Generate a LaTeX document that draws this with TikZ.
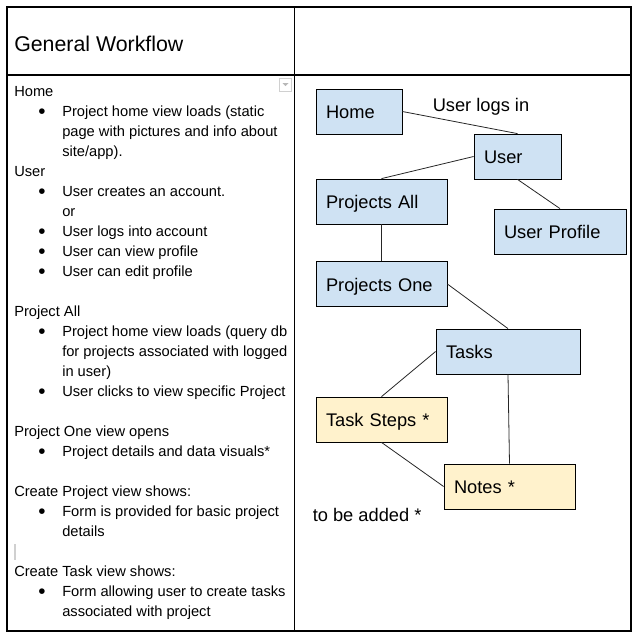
\documentclass[tikz,border=0pt]{standalone}
\usepackage{fontspec}
\setmainfont{Liberation Sans}
\definecolor{boxblue}{HTML}{CFE2F3}
\definecolor{boxyellow}{HTML}{FFF2CC}
\definecolor{uigray}{HTML}{D0D0D0}
\definecolor{tri}{HTML}{B8B8B8}
\begin{document}
\begin{tikzpicture}[x=0.75pt,y=-0.75pt,
  tableline/.style={line width=0.9pt, draw=black},
  bx/.style={draw=black, line width=0.6pt, inner xsep=7.5pt, inner ysep=0pt,
    minimum height=33.75pt, align=left, text height=10.5pt, text depth=0pt,
    font=\fontsize{13.7pt}{16pt}\selectfont},
  bluebx/.style={bx, fill=boxblue},
  yellowbx/.style={bx, fill=boxyellow},
  conn/.style={line width=0.6pt, draw=black!85},
  lt/.style={anchor=base west, inner sep=0pt, font=\fontsize{11pt}{15pt}\selectfont},
  bul/.style={anchor=base, inner sep=0pt, yshift=-1.7pt, font=\fontsize{15.5pt}{18pt}\selectfont},
  lbl/.style={anchor=base west, inner sep=0pt, font=\fontsize{13.7pt}{16pt}\selectfont}]
\useasboundingbox (0,0) rectangle (639,640);
% table
\draw[tableline] (7,7) rectangle (631,631);
\draw[tableline] (294.5,7) -- (294.5,631);
\draw[tableline] (7,75) -- (631,75);
\node[anchor=base west, inner sep=0pt, font=\fontsize{16pt}{19pt}\selectfont] (title) at (14,51.7) {General Workflow};
% dropdown widget
\draw[uigray, line width=0.6pt] (279,78.5) rectangle (291.5,91);
\fill[tri] (282.5,83) -- (288.5,83) -- (285.5,86) -- cycle;
% cursor bar
\draw[uigray, line width=1.5pt] (15,544) -- (15,560);
% left text
\node[lt] (l1) at (14,96.7) {Home};
\node[bul] (b1) at (42,116.7) {•};
\node[lt] (l2) at (62,116.7) {Project home view loads (static};
\node[lt] (l3) at (62,136.7) {page with pictures and info about};
\node[lt] (l4) at (62,156.7) {site/app).};
\node[lt] (l5) at (14,176.7) {User};
\node[bul] (b2) at (42,196.7) {•};
\node[lt] (l6) at (62,196.7) {User creates an account.};
\node[lt] (l7) at (62,216.7) {or};
\node[bul] (b3) at (42,236.7) {•};
\node[lt] (l8) at (62,236.7) {User logs into account};
\node[bul] (b4) at (42,256.7) {•};
\node[lt] (l9) at (62,256.7) {User can view profile};
\node[bul] (b5) at (42,276.7) {•};
\node[lt] (l10) at (62,276.7) {User can edit profile};
\node[lt] (l11) at (14,316.7) {Project All};
\node[bul] (b6) at (42,336.7) {•};
\node[lt] (l12) at (62,336.7) {Project home view loads (query db};
\node[lt] (l13) at (62,356.7) {for projects associated with logged};
\node[lt] (l14) at (62,376.7) {in user)};
\node[bul] (b7) at (42,396.7) {•};
\node[lt] (l15) at (62,396.7) {User clicks to view specific Project};
\node[lt] (l16) at (14,436.7) {Project One view opens};
\node[bul] (b8) at (42,456.7) {•};
\node[lt] (l17) at (62,456.7) {Project details and data visuals*};
\node[lt] (l18) at (14,496.7) {Create Project view shows:};
\node[bul] (b9) at (42,516.7) {•};
\node[lt] (l19) at (62,516.7) {Form is provided for basic project};
\node[lt] (l20) at (62,536.7) {details};
\node[lt] (l21) at (14,576.7) {Create Task view shows:};
\node[bul] (b10) at (42,596.7) {•};
\node[lt] (l22) at (62,596.7) {Form allowing user to create tasks};
\node[lt] (l23) at (62,616.7) {associated with project};
% diagram boxes
\node[bluebx, text width=49.5pt] (home) at (359,111.5) {Home};
\node[bluebx, text width=50.25pt] (user) at (517.5,156.5) {User};
\node[bluebx, text width=83.25pt] (pall) at (381.5,201.5) {Projects All};
\node[bluebx, text width=84pt] (uprof) at (560,231.5) {User Profile};
\node[bluebx, text width=83.25pt] (pone) at (381.5,284) {Projects One};
\node[bluebx, text width=93pt] (tasks) at (508,351.5) {Tasks};
\node[yellowbx, text width=83.25pt] (tsteps) at (381.5,419.5) {Task Steps *};
\node[yellowbx, text width=83.25pt] (notes) at (509.5,486.5) {Notes *};
% connectors
\draw[conn] (home.east) -- (user.north);
\draw[conn] (user.west) -- (pall.north);
\draw[conn] (user.south) -- (uprof.north);
\draw[conn] (pall.south) -- (pone.north);
\draw[conn] (pone.east) -- (tasks.north);
\draw[conn] (tasks.west) -- (tsteps.north);
\draw[conn] (tasks.south) -- (notes.north);
\draw[conn] (tsteps.south) -- (notes.west);
% labels
\node[lbl] (loglbl) at (432.5,111.5) {User logs in};
\node[lbl] (addlbl) at (312.5,521) {to be added *};
\end{tikzpicture}
\end{document}
